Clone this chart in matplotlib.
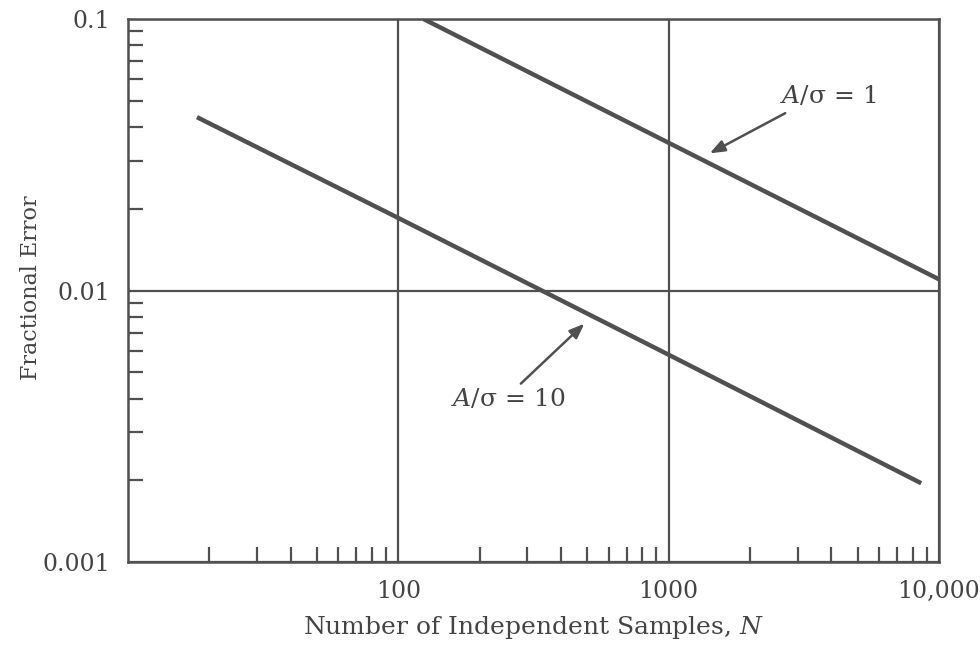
import numpy as np
import matplotlib
matplotlib.use('Agg')
import matplotlib.pyplot as plt
from matplotlib.ticker import FixedLocator, NullFormatter

# fractional error vs number of independent samples
n_snr1 = [124, 1000, 10000]
err_snr1 = [0.1, 0.035, 0.011]

n_snr10 = [18, 100, 1000, 8600]
err_snr10 = [0.0435, 0.0185, 0.0058, 0.00195]

x_ticks = [100, 1000, 10000]
x_ticklabels = ['100', '1000', '10,000']
y_ticks = [0.001, 0.01, 0.1]
y_ticklabels = ['0.001', '0.01', '0.1']

ink = '#505050'
txt = '#444444'
plt.rcParams['font.family'] = ['DejaVu Serif']
plt.rcParams['mathtext.fontset'] = 'custom'
plt.rcParams['mathtext.it'] = 'DejaVu Serif:italic'
plt.rcParams['mathtext.rm'] = 'DejaVu Serif'

fig = plt.figure(figsize=(9.8, 6.47), dpi=100)
ax = fig.add_axes([0.1306, 0.1314, 0.8275, 0.8392])

ax.plot(n_snr1, err_snr1, color=ink, lw=3.2, solid_capstyle='butt')
ax.plot(n_snr10, err_snr10, color=ink, lw=3.2, solid_capstyle='butt')

ax.set_xscale('log')
ax.set_yscale('log')
ax.set_xlim(10, 10000)
ax.set_ylim(0.001, 0.1)

ax.xaxis.set_major_locator(FixedLocator(x_ticks))
ax.set_xticklabels(x_ticklabels)
ax.yaxis.set_major_locator(FixedLocator(y_ticks))
ax.set_yticklabels(y_ticklabels)

minor_x = [m * d for d in (10, 100, 1000) for m in range(2, 10)]
minor_y = [m * d for d in (0.001, 0.01) for m in range(2, 10)]
ax.xaxis.set_minor_locator(FixedLocator(minor_x))
ax.yaxis.set_minor_locator(FixedLocator(minor_y))
ax.xaxis.set_minor_formatter(NullFormatter())
ax.yaxis.set_minor_formatter(NullFormatter())

ax.tick_params(which='major', length=0, labelsize=17, colors=txt)
ax.tick_params(axis='y', which='major', pad=13)
ax.tick_params(axis='x', which='major', pad=13)
ax.tick_params(which='minor', direction='in', length=11, width=1.6, color=ink)
ax.tick_params(axis='y', which='minor', left=True, right=False)
ax.tick_params(axis='x', which='minor', bottom=True, top=False)

ax.grid(True, which='major', color=ink, lw=1.6)
for s in ax.spines.values():
    s.set_color(ink)
    s.set_linewidth(1.8)

ax.set_xlabel('Number of Independent Samples, $N$', fontsize=18, color=txt, labelpad=8)
ax.set_ylabel('Fractional Error', fontsize=16, color=txt)
ax.yaxis.set_label_coords(-0.106, 0.505)

# curve labels with arrows
arrow = dict(arrowstyle='-|>,head_length=0.9,head_width=0.35', color=ink, lw=1.8, shrinkA=0, shrinkB=0)
ax.annotate('', xy=(1420, 0.032), xytext=(2700, 0.045), arrowprops=arrow)
ax.text(3900, 0.052, '$A$/σ = 1', fontsize=18, color=txt, ha='center', va='center')
ax.annotate('', xy=(488, 0.00755), xytext=(284, 0.00454), arrowprops=arrow)
ax.text(256, 0.00400, '$A$/σ = 10', fontsize=18, color=txt, ha='center', va='center')

fig.savefig('out.png', dpi=100)
